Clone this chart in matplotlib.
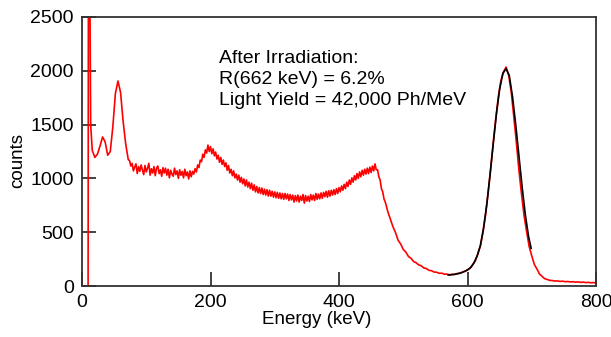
import numpy as np
import matplotlib
matplotlib.use('Agg')
import matplotlib.pyplot as plt

plt.rcParams['font.family'] = ['Liberation Sans', 'DejaVu Sans']

# low-energy edge of the spectrum (threshold spike, clipped by the axis)
edge_energy = [0, 9.5, 10, 12, 13.5, 16, 20]
edge_counts = [0, 0, 3000, 3000, 1500, 1260, 1195]

# x-ray / escape peaks, 4 keV bins from 24 keV
low_counts = [1225, 1300, 1385, 1340, 1215, 1250, 1480, 1790, 1905, 1800,
              1530, 1320, 1175]

# continuum + backscatter + Compton edge, 2 keV bins from 74 keV
mid_counts = [
    1165, 1115, 1140, 1070, 1105, 1135, 1045, 1110, 1065, 1125,   # 74-92
    1080, 1035, 1120, 1060, 1095, 1140, 1030, 1090, 1050, 1110,   # 94-112
    1025, 1095, 1115, 1045, 1080, 1020, 1100, 1050, 1095, 1030,   # 114-132
    1085, 1005, 1075, 1040, 1020, 1095, 1035, 1070, 1000, 1080,   # 134-152
    1030, 1065, 1005, 1085, 1025, 1060, 995, 1070, 1015, 1065,    # 154-172
    1040, 1090, 1060, 1125, 1100, 1170, 1155, 1225, 1195, 1265,   # 174-192
    1235, 1310, 1250, 1295, 1230, 1275, 1210, 1245, 1180, 1215,   # 194-212
    1150, 1195, 1130, 1170, 1110, 1145, 1075, 1120, 1050, 1085,   # 214-232
    1025, 1070, 1005, 1040, 985, 1030, 965, 1010, 950, 995,       # 234-252
    930, 985, 920, 965, 905, 955, 890, 940, 875, 925,             # 254-272
    865, 915, 860, 910, 850, 900, 845, 895, 835, 890,             # 274-292
    835, 880, 825, 875, 820, 870, 815, 865, 810, 860,             # 294-312
    805, 860, 810, 855, 795, 850, 800, 845, 780, 840,             # 314-332
    790, 845, 780, 835, 795, 850, 770, 840, 790, 835,             # 334-352
    785, 850, 800, 845, 795, 860, 805, 855, 810, 865,             # 354-372
    815, 870, 830, 880, 825, 885, 835, 890, 845, 895,             # 374-392
    850, 905, 860, 915, 875, 930, 890, 945, 905, 965,             # 394-412
    925, 985, 945, 1005, 965, 1025, 985, 1045, 1000, 1060,        # 414-432
    1015, 1075, 1030, 1085, 1040, 1095, 1045, 1105, 1055, 1115,   # 434-452
    1070, 1135, 1080, 1080, 1015, 985, 905, 875, 810,             # 454-470
]

# Compton valley, photopeak and tail, 4 keV bins from 472 keV
high_counts = [
    780, 690, 620, 550, 495, 425, 390, 340, 315, 275,             # 472-508
    258, 228, 216, 196, 188, 168, 162, 146, 142, 130,             # 512-548
    128, 118, 119, 110, 111, 104, 109, 108, 116, 118,             # 552-588
    130, 136, 152, 166, 197, 233, 297, 373, 497, 658,             # 592-628
    862, 1088, 1332, 1558, 1762, 1910, 1990, 2035, 1960, 1805,    # 632-668
    1575, 1335, 1075, 855, 655, 505, 365, 280, 200, 158,          # 672-708
    112, 90, 68, 61, 52, 51, 46, 47, 43, 45,                      # 712-748
    40, 42, 38, 40, 36, 38, 34, 36, 32, 34,                       # 752-788
    30, 32, 28,                                                   # 792-800
]

# fitted photopeak (black)
fit_energy = [570, 580, 590, 600, 605, 610, 615, 620, 625, 630, 635, 640,
              645, 650, 655, 660, 665, 670, 675, 680, 685, 690, 695, 699]
fit_counts = [102, 108, 122, 148, 172, 215, 280, 375, 540, 760, 1030, 1320,
              1600, 1830, 1975, 2020, 1955, 1760, 1500, 1210, 920, 660, 460, 350]

low_energy = list(24 + 4 * np.arange(len(low_counts)))
mid_energy = list(74 + 2 * np.arange(len(mid_counts)))
high_energy = list(472 + 4 * np.arange(len(high_counts)))

energy = edge_energy + low_energy + mid_energy + high_energy
counts = edge_counts + low_counts + mid_counts + high_counts

fig = plt.figure(figsize=(6.11, 3.37), dpi=100)
ax = fig.add_axes([0.1342, 0.1513, 0.8413, 0.7983])

ax.plot(energy, counts, color='#ff0000', lw=1.2)
ax.plot(fit_energy, fit_counts, color='black', lw=1.2)

ax.set_xlim(0, 800)
ax.set_ylim(0, 2500)
ax.set_xticks([0, 200, 400, 600, 800])
ax.set_yticks([0, 500, 1000, 1500, 2000, 2500])
ax.tick_params(direction='in', length=10, width=1.2, labelsize=14, pad=6,
               color='#222222')
for s in ax.spines.values():
    s.set_linewidth(1.3)
    s.set_color('#333333')

ax.set_xlabel('Energy (keV)', fontsize=13.5, labelpad=0, x=0.457)
ax.set_ylabel('counts', fontsize=13.5, labelpad=3, y=0.465)

ax.text(0.2665, 0.877,
        'After Irradiation:\nR(662 keV) = 6.2%\nLight Yield = 42,000 Ph/MeV',
        transform=ax.transAxes, fontsize=14, va='top', ha='left',
        linespacing=1.32)

fig.savefig('out.png', dpi=100)
plt.close(fig)
